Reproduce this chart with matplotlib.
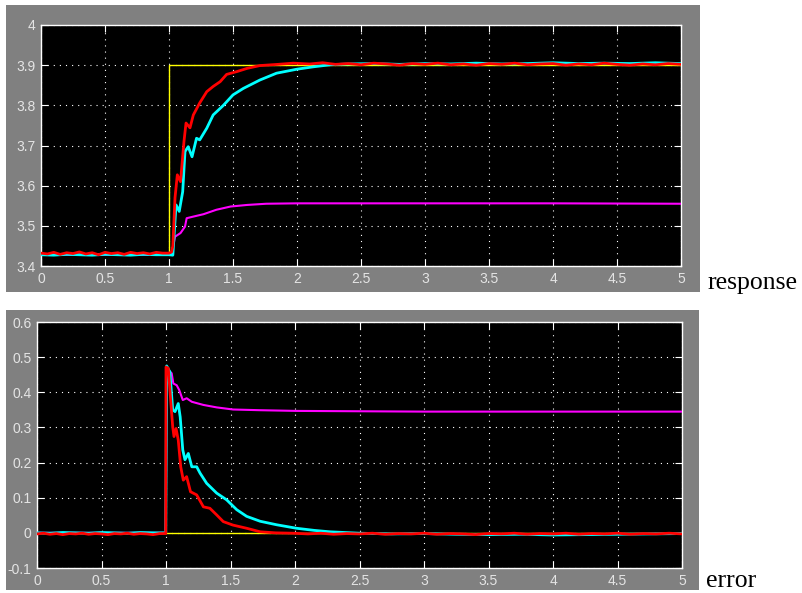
import matplotlib
matplotlib.use("Agg")
import matplotlib.pyplot as plt
from matplotlib.patches import Rectangle

plt.rcParams['lines.scale_dashes'] = False

# ---------------- data ----------------
x_ticks = [0, 0.5, 1, 1.5, 2, 2.5, 3, 3.5, 4, 4.5, 5]
x_tick_labels = ["0", "0.5", "1", "1.5", "2", "2.5", "3", "3.5", "4", "4.5", "5"]
resp_ticks = [3.4, 3.5, 3.6, 3.7, 3.8, 3.9, 4.0]
resp_tick_labels = ["3.4", "3.5", "3.6", "3.7", "3.8", "3.9", "4"]
err_ticks = [-0.1, 0, 0.1, 0.2, 0.3, 0.4, 0.5, 0.6]
err_tick_labels = ["-0.1", "0", "0.1", "0.2", "0.3", "0.4", "0.5", "0.6"]

# response panel
ref_t = [0, 1.0, 1.0, 5.0]
ref_y = [3.43, 3.43, 3.90, 3.90]

red_t = [0.0, 0.05, 0.1, 0.15, 0.2, 0.25, 0.3, 0.35, 0.4, 0.45, 0.5, 0.55, 0.6, 0.65,
         0.7, 0.75, 0.8, 0.85, 0.9, 0.95, 1.0, 1.02, 1.03, 1.047, 1.065, 1.09, 1.117,
         1.133, 1.164, 1.19, 1.24, 1.295, 1.345, 1.40, 1.45, 1.53, 1.61, 1.71, 1.85,
         1.97, 2.1, 2.2, 2.3, 2.4, 2.5, 2.6, 2.7, 2.8, 2.9, 3.0, 3.1, 3.2, 3.3, 3.4,
         3.5, 3.6, 3.7, 3.8, 3.9, 4.0, 4.1, 4.2, 4.3, 4.4, 4.5, 4.6, 4.7, 4.8, 4.9, 5.0]
red_y = [3.432, 3.430, 3.434, 3.429, 3.433, 3.431, 3.435, 3.430, 3.433, 3.428, 3.434,
         3.431, 3.433, 3.429, 3.434, 3.431, 3.433, 3.430, 3.434, 3.432, 3.432, 3.435,
         3.45, 3.57, 3.627, 3.61, 3.71, 3.756, 3.744, 3.776, 3.806, 3.834, 3.847, 3.859,
         3.877, 3.884, 3.892, 3.899, 3.902, 3.905, 3.903, 3.906, 3.902, 3.904, 3.901,
         3.905, 3.903, 3.900, 3.904, 3.902, 3.905, 3.901, 3.903, 3.900, 3.904, 3.902,
         3.905, 3.901, 3.903, 3.904, 3.900, 3.903, 3.901, 3.905, 3.902, 3.900, 3.903,
         3.901, 3.904, 3.902]

cyan_t = [0.0, 0.1, 0.2, 0.3, 0.4, 0.5, 0.6, 0.7, 0.8, 0.9, 1.0, 1.03, 1.055, 1.08,
          1.107, 1.125, 1.15, 1.18, 1.215, 1.24, 1.295, 1.345, 1.425, 1.50, 1.58, 1.71,
          1.84, 2.0, 2.13, 2.26, 2.4, 2.6, 2.8, 3.0, 3.2, 3.4, 3.6, 3.8, 4.0, 4.2, 4.4,
          4.6, 4.8, 5.0]
cyan_y = [3.428, 3.427, 3.429, 3.428, 3.427, 3.429, 3.428, 3.427, 3.429, 3.428, 3.428,
          3.427, 3.552, 3.536, 3.585, 3.685, 3.697, 3.672, 3.718, 3.714, 3.743, 3.776,
          3.800, 3.826, 3.842, 3.863, 3.880, 3.890, 3.896, 3.901, 3.903, 3.904, 3.902,
          3.904, 3.903, 3.905, 3.903, 3.904, 3.906, 3.904, 3.905, 3.904, 3.906, 3.904]

mag_t = [0.0, 1.0, 1.02, 1.047, 1.09, 1.125, 1.138, 1.19, 1.27, 1.37, 1.48, 1.61, 1.76,
         2.0, 3.0, 4.0, 5.0]
mag_y = [3.428, 3.428, 3.428, 3.473, 3.482, 3.498, 3.519, 3.523, 3.529, 3.540, 3.548,
         3.552, 3.555, 3.556, 3.556, 3.556, 3.555]

# error panel
eref_t = [0, 5.0]
eref_y = [0.0, 0.0]

ered_t = [0.0, 0.05, 0.1, 0.15, 0.2, 0.25, 0.3, 0.35, 0.4, 0.45, 0.5, 0.55, 0.6, 0.65,
          0.7, 0.75, 0.8, 0.85, 0.9, 0.95, 0.998, 1.0, 1.018, 1.036, 1.052, 1.062,
          1.078, 1.095, 1.114, 1.134, 1.16, 1.19, 1.238, 1.29, 1.34, 1.393, 1.444, 1.52,
          1.626, 1.73, 1.85, 1.985, 2.1, 2.2, 2.3, 2.4, 2.5, 2.6, 2.7, 2.8, 2.9, 3.0,
          3.1, 3.2, 3.3, 3.4, 3.5, 3.6, 3.7, 3.8, 3.9, 4.0, 4.1, 4.2, 4.3, 4.4, 4.5,
          4.6, 4.7, 4.8, 4.9, 5.0]
ered_y = [-0.003, -0.001, -0.004, -0.002, -0.005, -0.002, -0.003, -0.001, -0.004,
          -0.002, -0.003, -0.005, -0.002, -0.003, -0.001, -0.004, -0.002, -0.003,
          -0.005, -0.002, -0.002, 0.472, 0.468, 0.378, 0.302, 0.274, 0.297, 0.264,
          0.188, 0.150, 0.160, 0.117, 0.108, 0.074, 0.070, 0.051, 0.032, 0.022, 0.013,
          0.003, 0.000, -0.001, -0.003, -0.001, -0.004, -0.002, -0.003, -0.001, -0.004,
          -0.002, -0.003, -0.001, -0.004, -0.002, -0.003, -0.005, -0.002, -0.003,
          -0.001, -0.004, -0.002, -0.003, -0.001, -0.004, -0.002, -0.003, -0.001,
          -0.004, -0.002, -0.003, -0.001, -0.003]

ecyan_t = [0.0, 0.1, 0.2, 0.3, 0.4, 0.5, 0.6, 0.7, 0.8, 0.9, 0.998, 1.005, 1.03, 1.052,
           1.07, 1.095, 1.11, 1.13, 1.147, 1.173, 1.2, 1.238, 1.264, 1.315, 1.393,
           1.47, 1.548, 1.625, 1.73, 1.858, 2.013, 2.15, 2.27, 2.5, 2.75, 3.0, 3.25,
           3.5, 3.75, 4.0, 4.25, 4.5, 4.75, 5.0]
ecyan_y = [0.000, -0.001, 0.001, 0.000, -0.001, 0.001, 0.000, -0.001, 0.001, 0.000,
           0.000, 0.475, 0.458, 0.350, 0.345, 0.368, 0.330, 0.236, 0.208, 0.226, 0.188,
           0.188, 0.170, 0.141, 0.113, 0.094, 0.066, 0.047, 0.033, 0.023, 0.013, 0.007,
           0.003, -0.001, -0.003, -0.002, -0.004, -0.005, -0.004, -0.006, -0.005,
           -0.004, -0.003, -0.002]

emag_t = [0.0, 0.998, 1.005, 1.044, 1.057, 1.083, 1.103, 1.13, 1.16, 1.2, 1.29, 1.393,
          1.52, 1.73, 2.013, 3.0, 4.0, 5.0]
emag_y = [0.0, 0.0, 0.468, 0.454, 0.425, 0.420, 0.406, 0.378, 0.383, 0.373, 0.364,
          0.357, 0.351, 0.349, 0.347, 0.345, 0.345, 0.345]

# ---------------- figure ----------------
W, H = 802, 593
fig = plt.figure(figsize=(W / 100, H / 100), dpi=100, facecolor="white")

def fr(x0, y0, x1, y1):
    """pixel box (top-left origin) -> figure fraction rect"""
    return [x0 / W, 1 - y1 / H, (x1 - x0) / W, (y1 - y0) / H]

grey = "#808080"
bg = fig.add_axes([0, 0, 1, 1], zorder=-10)
bg.set_axis_off()
bg.set_xlim(0, 1)
bg.set_ylim(0, 1)
for box in (fr(6, 5, 700, 292), fr(6, 310, 699, 590)):
    bg.add_patch(Rectangle((box[0], box[1]), box[2], box[3], facecolor=grey,
                           edgecolor="none"))

ax1 = fig.add_axes(fr(41, 25, 681, 266), zorder=1)
ax2 = fig.add_axes(fr(37, 322, 682, 568), zorder=1)

label_color = "#e4e4e4"

def style(ax, yticks, ylabels, ylim):
    ax.set_facecolor("black")
    ax.set_xlim(0, 5)
    ax.set_ylim(*ylim)
    ax.set_xticks(x_ticks)
    ax.set_xticklabels(x_tick_labels)
    ax.set_yticks(yticks)
    ax.set_yticklabels(ylabels)
    for s in ax.spines.values():
        s.set_color("white")
        s.set_linewidth(1.0)
    ax.tick_params(direction="in", length=5, width=0.8, color="white",
                   labelcolor=label_color, labelsize=10, top=True, right=True,
                   pad=4)
    ax.tick_params(axis="x", pad=4)
    for lab in ax.get_xticklabels() + ax.get_yticklabels():
        lab.set_family("Liberation Sans")
    ax.grid(True, color="white", linewidth=0.8, linestyle=(0, (0.8, 3.6)))
    ax.set_axisbelow(True)

style(ax1, resp_ticks, resp_tick_labels, (3.4, 4.0))
style(ax2, err_ticks, err_tick_labels, (-0.1, 0.6))

ax1.plot(ref_t, ref_y, color="#ffff00", lw=1.0, zorder=2)
ax1.plot(mag_t, mag_y, color="#ff00ff", lw=1.5, zorder=3)
ax1.plot(cyan_t, cyan_y, color="#00ffff", lw=2.0, zorder=4)
ax1.plot(red_t, red_y, color="#ff0000", lw=2.0, zorder=5)

ax2.plot(eref_t, eref_y, color="#ffff00", lw=1.0, zorder=2)
ax2.plot(emag_t, emag_y, color="#ff00ff", lw=1.5, zorder=3)
ax2.plot(ecyan_t, ecyan_y, color="#00ffff", lw=2.0, zorder=4)
ax2.plot(ered_t, ered_y, color="#ff0000", lw=2.0, zorder=5)

fig.text(707 / W, 1 - 289 / H, "response", family="Liberation Serif", fontsize=18.5,
         color="black", ha="left", va="baseline")
fig.text(706 / W, 1 - 587 / H, "error", family="Liberation Serif", fontsize=18.5,
         color="black", ha="left", va="baseline")

fig.savefig("out.png", dpi=100, facecolor="white")
